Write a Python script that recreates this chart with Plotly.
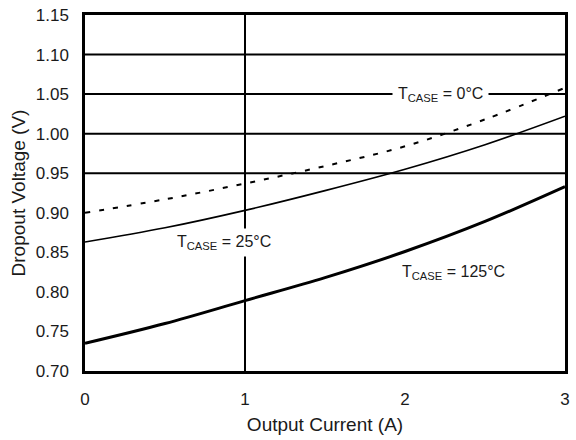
import plotly.graph_objects as go

# Output current (A) sample points
current = [0, 0.5, 1, 1.5, 2, 2.5, 3]

# Dropout voltage (V) per case temperature
v_0c = [0.900, 0.917, 0.937, 0.959, 0.984, 1.018, 1.058]
v_25c = [0.863, 0.881, 0.903, 0.928, 0.955, 0.986, 1.022]
v_125c = [0.735, 0.760, 0.789, 0.818, 0.851, 0.889, 0.933]

y_ticks = [0.70, 0.75, 0.80, 0.85, 0.90, 0.95, 1.00, 1.05, 1.10, 1.15]
x_ticks = [0, 1, 2, 3]

# Grid lines drawn only where the data sheet has them
y_grid = [0.95, 1.00, 1.05, 1.10]
x_grid = [1]

FONT = "Liberation Sans, Arial, sans-serif"
INK = "#1a1a1a"

fig = go.Figure()

fig.add_trace(go.Scatter(x=current, y=v_0c, mode="lines",
                         line=dict(color="black", width=2, dash="5px,9px", shape="spline"),
                         showlegend=False))
fig.add_trace(go.Scatter(x=current, y=v_25c, mode="lines",
                         line=dict(color="black", width=1.6, shape="spline"),
                         showlegend=False))
fig.add_trace(go.Scatter(x=current, y=v_125c, mode="lines",
                         line=dict(color="black", width=3, shape="spline"),
                         showlegend=False))

shapes = []
for g in y_grid:
    shapes.append(dict(type="line", xref="paper", yref="y", x0=0, x1=1, y0=g, y1=g,
                       line=dict(color="black", width=2), layer="below"))
for g in x_grid:
    shapes.append(dict(type="line", xref="x", yref="paper", x0=g, x1=g, y0=0, y1=1,
                       line=dict(color="black", width=2), layer="below"))

label_font = dict(family=FONT, size=16, color=INK)
annotations = [
    dict(x=2.22, y=1.05, text="T<sub>CASE</sub> = 0°C", showarrow=False,
         bgcolor="white", borderpad=5, xanchor="center", yanchor="middle",
         font=label_font),
    dict(x=0.87, y=0.863, text="T<sub>CASE</sub> = 25°C", showarrow=False,
         bgcolor="white", borderpad=4, xanchor="center", yanchor="middle",
         font=label_font),
    dict(x=2.30, y=0.824, text="T<sub>CASE</sub> = 125°C", showarrow=False,
         bgcolor="white", borderpad=4, xanchor="center", yanchor="middle",
         font=label_font),
]

fig.update_layout(
    width=576, height=440,
    margin=dict(l=85, r=6, t=15, b=69),
    paper_bgcolor="white", plot_bgcolor="white",
    font=dict(family=FONT, size=17, color=INK),
    shapes=shapes,
    annotations=annotations,
    xaxis=dict(range=[0, 3], tickvals=x_ticks, ticktext=[str(t) for t in x_ticks],
               showgrid=False, zeroline=False, showline=True, mirror=True,
               linecolor="black", linewidth=2.5, ticks="", ticklabelstandoff=11,
               title=dict(text="Output Current (A)", standoff=10,
                          font=dict(size=19))),
    yaxis=dict(range=[0.70, 1.15], tickvals=y_ticks,
               ticktext=[f"{t:.2f}" for t in y_ticks],
               showgrid=False, zeroline=False, showline=True, mirror=True,
               linecolor="black", linewidth=2.5, ticks="", ticklabelstandoff=10,
               title=dict(text="Dropout Voltage (V)", standoff=6,
                          font=dict(size=19))),
)

fig.write_html("out.html")
